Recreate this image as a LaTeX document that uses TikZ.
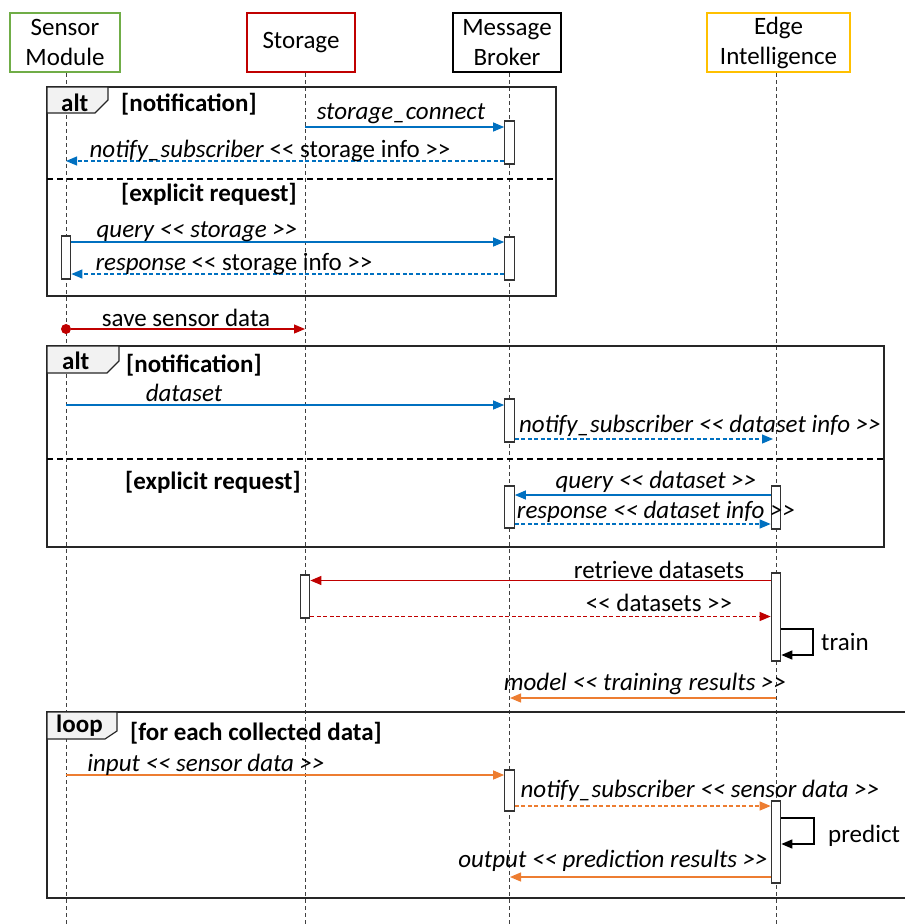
\documentclass[tikz,border=0pt]{standalone}
\usepackage{fontspec}
\setmainfont{Carlito}
\usetikzlibrary{arrows.meta}
\definecolor{cblue}{RGB}{0,112,192}
\definecolor{cred}{RGB}{192,0,0}
\definecolor{corange}{RGB}{237,125,49}
\definecolor{cgreen}{RGB}{112,173,71}
\definecolor{cgold}{RGB}{255,192,0}
\newcommand\ltlt{<\kern0pt<}
\newcommand\gtgt{>\kern0pt>}
\begin{document}
\begin{tikzpicture}[x=1pt,y=-1pt,
  font=\fontsize{25}{30}\selectfont,
  head/.style={draw,line width=2pt,inner sep=0pt,align=center},
  life/.style={draw=black!75,line width=1pt,dash pattern=on 4pt off 3pt},
  act/.style={draw=black!80,fill=white,line width=1.2pt,minimum width=9.5pt,inner sep=0pt},
  frm/.style={draw=black!85,line width=1.5pt},
  divline/.style={draw=black,line width=1.5pt,dash pattern=on 6pt off 4pt},
  tabshape/.style={draw=black!85,fill=black!5,line width=1.2pt},
  msg/.style={line width=1.2pt,-{Triangle[length=11pt,width=9pt]}},
  ret/.style={msg,dash pattern=on 4pt off 2.5pt},
  lbl/.style={anchor=base,inner sep=0pt},
  guard/.style={anchor=base west,inner sep=0pt,font=\fontsize{25}{30}\selectfont\bfseries},
]
\useasboundingbox (0,0) rectangle (905,924);
% heads
\node[head,draw=cgreen,minimum width=110pt,minimum height=59pt] (hS) at (65,42.5) {Sensor\\Module};
\node[head,draw=cred,minimum width=108pt,minimum height=59pt] (hT) at (301,42.5) {Storage};
\node[head,draw=black,minimum width=108pt,minimum height=59pt] (hB) at (507,42.5) {Message\\Broker};
\node[head,draw=cgold,minimum width=143pt,minimum height=59pt] (hE) at (778.5,42.5) {Edge\\Intelligence};
% lifelines
\coordinate (lS) at (66,924);
\coordinate (lT) at (305,924);
\coordinate (lB) at (509.5,924);
\coordinate (lE) at (776,924);
\draw[life] (hS.south -| lS) -- (lS);
\draw[life] (hT.south -| lT) -- (lT);
\draw[life] (hB.south -| lB) -- (lB);
\draw[life] (hE.south -| lE) -- (lE);

% ===== frame 1 =====
\draw[frm] (47,87) rectangle (556,296);
\draw[divline] (47,179) -- (556,179);
\draw[tabshape] (47,87) -- (108,87) -- (108,100) -- (95,113) -- (47,113) -- cycle;
\node[guard] (t1) at (61,111) {alt};
\node[guard] (g1) at (121,111) {[notification]};
\node[guard] (g2) at (121,201) {[explicit request]};
\node[act,minimum height=43pt] (bA1) at (509.5,142.5) {};
\node[act,minimum height=43pt] (sA1) at (66,257.5) {};
\node[act,minimum height=43pt] (bA2) at (509.5,258.5) {};
\coordinate (c1) at (305,127);
\coordinate (c2) at (66,161);
\coordinate (c3) at (66,242);
\coordinate (c4) at (66,274);
\draw[msg,cblue] (c1) -- (bA1.west |- c1);
\draw[ret,cblue] (bA1.west |- c2) -- (c2);
\draw[msg,cblue] (sA1.east |- c3) -- (bA2.west |- c3);
\draw[ret,cblue] (bA2.west |- c4) -- (sA1.east |- c4);
\node[lbl] (m1) at (401,119) {\itshape storage\_connect};
\node[lbl] (m2) at (270,157) {\textit{notify\_subscriber} \ltlt{} storage info \gtgt};
\node[lbl] (m3) at (197,237) {\itshape query \ltlt{} storage \gtgt};
\node[lbl] (m4) at (234,270) {\textit{response} \ltlt{} storage info \gtgt};

% save sensor data
\coordinate (c5) at (305,329);
\node[circle,fill=cred,inner sep=0pt,minimum size=10pt] (dot) at (66,329) {};
\draw[msg,cred] (dot) -- (c5);
\node[lbl] (m5) at (186,326) {save sensor data};

% ===== frame 2 =====
\draw[frm] (47,346) rectangle (884,547);
\draw[divline] (47,459) -- (884,459);
\draw[tabshape] (47,346) -- (119,346) -- (119,361) -- (107,373) -- (47,373) -- cycle;
\node[guard] (t2) at (62,369) {alt};
\node[guard] (g3) at (126,372) {[notification]};
\node[guard] (g4) at (125,489) {[explicit request]};
\node[act,minimum height=43pt] (bA3) at (509.5,420.5) {};
\node[act,minimum height=42pt] (bA4) at (509.5,507) {};
\node[act,minimum height=43pt] (eA1) at (776,507.5) {};
\coordinate (c6) at (66,405);
\coordinate (c7) at (773,439);
\coordinate (c8) at (776,495);
\coordinate (c9) at (776,524);
\draw[msg,cblue] (c6) -- (bA3.west |- c6);
\draw[ret,cblue] (bA3.east |- c7) -- (c7);
\draw[msg,cblue] (eA1.west |- c8) -- (bA4.east |- c8);
\draw[ret,cblue] (bA4.east |- c9) -- (eA1.west |- c9);
\node[lbl] (m6) at (184,401) {\itshape dataset};
\node[lbl] (m7) at (700,432) {\itshape notify\_subscriber \ltlt{} dataset info \gtgt};
\node[lbl] (m8) at (656,488) {\itshape query \ltlt{} dataset \gtgt};
\node[lbl] (m9) at (656,518) {\itshape response \ltlt{} dataset info \gtgt};

% ===== retrieve / train =====
\node[act,minimum height=43pt] (stA) at (305,596.5) {};
\node[act,minimum height=88pt] (eA2) at (776,617) {};
\coordinate (c10) at (776,580.5);
\coordinate (c11) at (776,616.5);
\coordinate (c12) at (813,629);
\coordinate (c13) at (813,655);
\coordinate (c14) at (776,698);
\coordinate (c15) at (510,698);
\draw[msg,cred] (eA2.west |- c10) -- (stA.east |- c10);
\draw[ret,cred] (stA.east |- c11) -- (eA2.west |- c11);
\draw[msg,black,line width=1.5pt] (eA2.east |- c12) -- (c12) -- (c13) -- (eA2.east |- c13);
\draw[msg,corange] (c14) -- (c15);
\node[lbl] (m10) at (659,578) {retrieve datasets};
\node[lbl] (m11) at (659,611.5) {\ltlt{} datasets \gtgt};
\node[lbl,anchor=base west] (m12) at (821,650) {train};
\node[lbl] (m13) at (645,690) {\itshape model \ltlt{} training results \gtgt};

% ===== loop =====
\draw[frm] (910,712) -- (47,712) -- (47,898) -- (910,898);
\draw[tabshape] (47,712) -- (117,712) -- (117,731) -- (105,739) -- (47,739) -- cycle;
\node[guard] (t3) at (56,732) {loop};
\node[guard] (g5) at (130,740.5) {[for each collected data]};
\node[act,minimum height=41pt] (bA5) at (509.5,790.5) {};
\node[act,minimum height=82pt] (eA3) at (776,842) {};
\coordinate (c16) at (66,775);
\coordinate (c17) at (776,806);
\coordinate (c18) at (814,818);
\coordinate (c19) at (814,844);
\coordinate (c20) at (776,877);
\coordinate (c21) at (510,877);
\draw[msg,corange] (c16) -- (bA5.west |- c16);
\draw[ret,corange] (bA5.east |- c17) -- (eA3.west |- c17);
\draw[msg,black,line width=1.5pt] (eA3.east |- c18) -- (c18) -- (c19) -- (eA3.east |- c19);
\draw[msg,corange] (eA3.west |- c20) -- (c21);
\node[lbl] (m14) at (206,771) {\itshape input \ltlt{} sensor data \gtgt};
\node[lbl] (m15) at (700,797) {\itshape notify\_subscriber \ltlt{} sensor data \gtgt};
\node[lbl,anchor=base west] (m16) at (828,842) {predict};
\node[lbl] (m17) at (613,867) {\itshape output \ltlt{} prediction results \gtgt};
\end{tikzpicture}
\end{document}
